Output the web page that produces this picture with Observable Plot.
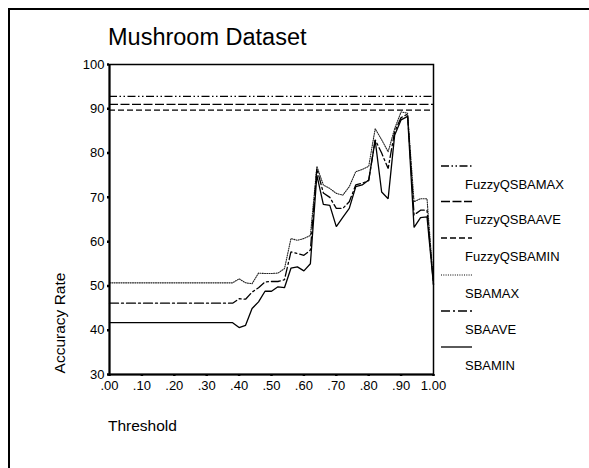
<!DOCTYPE html>
<html>
<head>
<meta charset="utf-8">
<script src="https://cdn.jsdelivr.net/npm/d3@7"></script>
<script src="https://cdn.jsdelivr.net/npm/@observablehq/plot@0.6"></script>
<style>
  html, body { margin: 0; padding: 0; background: #fff; }
  #wrap { position: relative; width: 589px; height: 468px; overflow: hidden; font-family: "Liberation Sans", Arial, sans-serif; }
  #outer { position: absolute; left: 8px; top: 8px; width: 700px; height: 600px; border-top: 2px solid #000; border-left: 2px solid #000; }
  #title { position: absolute; left: 108px; top: 24px; font-size: 23.5px; color: #000; white-space: nowrap; }
  #xlabel { position: absolute; left: 108px; top: 417px; font-size: 15.5px; white-space: nowrap; }
  #ylabel { position: absolute; left: 60px; top: 323px; font-size: 15.5px; white-space: nowrap; transform: translate(-50%, -50%) rotate(-90deg); }
  #chart { position: absolute; left: 0; top: 0; }
  #legend { position: absolute; left: 0; top: 0; }
</style>
</head>
<body>
<div id="wrap">
  <div id="outer"></div>
  <div id="chart"></div>
  <svg id="legend" width="589" height="468"></svg>
  <div id="title">Mushroom Dataset</div>
  <div id="xlabel">Threshold</div>
  <div id="ylabel">Accuracy Rate</div>
</div>
<script>
// ---- data ----
const thresholds = [0.00,0.02,0.04,0.06,0.08,0.10,0.12,0.14,0.16,0.18,0.20,0.22,0.24,0.26,0.28,0.30,0.32,0.34,0.36,0.38,
  0.40,0.42,0.44,0.46,0.48,0.50,0.52,0.54,0.56,0.58,0.60,0.62,0.64,0.66,0.68,0.70,0.72,0.74,0.76,0.78,
  0.80,0.82,0.84,0.86,0.88,0.90,0.92,0.94,0.96,0.98,1.00];

const sbaMin = [41.7,41.7,41.7,41.7,41.7,41.7,41.7,41.7,41.7,41.7,41.7,41.7,41.7,41.7,41.7,41.7,41.7,41.7,41.7,41.7,
  40.6,41.1,44.9,46.4,48.8,48.8,49.8,49.6,54.0,54.3,53.4,55.0,75.0,68.4,68.2,63.4,65.5,67.5,72.4,72.8,
  73.9,82.9,71.2,69.7,84.0,87.5,88.3,63.2,65.4,65.6,50.2];

const sbaAve = [46.1,46.1,46.1,46.1,46.1,46.1,46.1,46.1,46.1,46.1,46.1,46.1,46.1,46.1,46.1,46.1,46.1,46.1,46.1,46.1,
  47.1,47.0,48.6,49.6,50.9,51.0,51.0,51.4,57.7,57.3,56.9,58.1,76.5,71.0,70.0,67.5,67.5,69.0,72.8,73.2,
  73.8,83.0,80.0,76.5,84.8,88.0,88.8,66.0,67.1,67.1,50.4];

const sbaMax = [50.7,50.7,50.7,50.7,50.7,50.7,50.7,50.7,50.7,50.7,50.7,50.7,50.7,50.7,50.7,50.7,50.7,50.7,50.7,50.7,
  51.6,50.7,50.5,52.9,52.8,52.8,52.9,53.9,60.7,60.3,60.7,61.4,77.0,72.8,72.0,70.9,70.5,72.4,75.8,76.3,
  77.0,85.5,83.0,80.3,85.5,89.3,89.0,69.0,69.7,69.7,50.5];

const fuzzyNames = ["FuzzyQSBAMAX", "FuzzyQSBAAVE", "FuzzyQSBAMIN"];
const fuzzyValues = [92.8, 91.0, 89.7];

const seriesNames = ["SBAMAX", "SBAAVE", "SBAMIN"];
const legendNames = ["FuzzyQSBAMAX", "FuzzyQSBAAVE", "FuzzyQSBAMIN", "SBAMAX", "SBAAVE", "SBAMIN"];

const xTicks = [0,0.1,0.2,0.3,0.4,0.5,0.6,0.7,0.8,0.9,1.0];
const xTickLabels = [".00",".10",".20",".30",".40",".50",".60",".70",".80",".90","1.00"];
const yTicks = [30,40,50,60,70,80,90,100];

// ---- styles ----
const dashes = {
  FuzzyQSBAMAX: "8,2.5,1.5,2.5,1.5,2.5",
  FuzzyQSBAAVE: "9,2.5",
  FuzzyQSBAMIN: "6,3",
  SBAMAX: "1,1.3",
  SBAAVE: "9,3,2,3",
  SBAMIN: null
};

const rows = [];
[sbaMax, sbaAve, sbaMin].forEach((arr, i) => {
  arr.forEach((v, j) => rows.push({series: seriesNames[i], t: thresholds[j], v}));
});
const fuzzyRows = fuzzyNames.map((n, i) => ({series: n, v: fuzzyValues[i]}));

const marks = [];
fuzzyRows.forEach(r => {
  marks.push(Plot.ruleY([r], {y: "v", stroke: "#000", strokeWidth: 1.1, strokeDasharray: dashes[r.series]}));
});
seriesNames.forEach(name => {
  marks.push(Plot.line(rows.filter(r => r.series === name), {
    x: "t", y: "v", stroke: name === "SBAMAX" ? "#222" : "#000",
    strokeWidth: name === "SBAMAX" ? 1.1 : 1.3,
    strokeDasharray: dashes[name], strokeLinejoin: "miter"
  }));
});
marks.push(Plot.frame({stroke: "#000", strokeWidth: 1.5}));
marks.push(Plot.axisX({ticks: xTicks, tickFormat: d => xTickLabels[xTicks.indexOf(d)], tickSize: 2, strokeWidth: 2.5, tickPadding: 4, label: null, fontSize: 13}));
marks.push(Plot.axisY({ticks: yTicks, tickSize: 2, strokeWidth: 2.5, tickPadding: 3, label: null, fontSize: 13}));
marks.push(Plot.ruleX([0], {stroke: "#000", strokeWidth: 2}));
marks.push(Plot.ruleY([30], {stroke: "#000", strokeWidth: 2}));

const chart = Plot.plot({
  width: 589, height: 468,
  marginLeft: 109, marginRight: 156, marginTop: 64, marginBottom: 94,
  x: {domain: [0, 1]},
  y: {domain: [30, 100]},
  style: {fontFamily: "Liberation Sans, Arial, sans-serif", fontSize: "13px", color: "#000", background: "transparent"},
  marks
});
document.getElementById("chart").appendChild(chart);

// ---- legend ----
const lg = d3.select("#legend");
const lineYs = [166, 201.5, 238, 275, 311, 347];
legendNames.forEach((name, i) => {
  lg.append("line")
    .attr("x1", 441).attr("x2", 472)
    .attr("y1", lineYs[i]).attr("y2", lineYs[i])
    .attr("stroke", "#000").attr("stroke-width", name === "SBAMAX" ? 1 : 1.3)
    .attr("stroke-dasharray", dashes[name]);
  lg.append("text")
    .attr("x", 465).attr("y", lineYs[i] + 19.5)
    .attr("dominant-baseline", "middle")
    .attr("font-family", "Liberation Sans, Arial, sans-serif")
    .attr("font-size", 13)
    .text(name);
});
</script>
</body>
</html>
